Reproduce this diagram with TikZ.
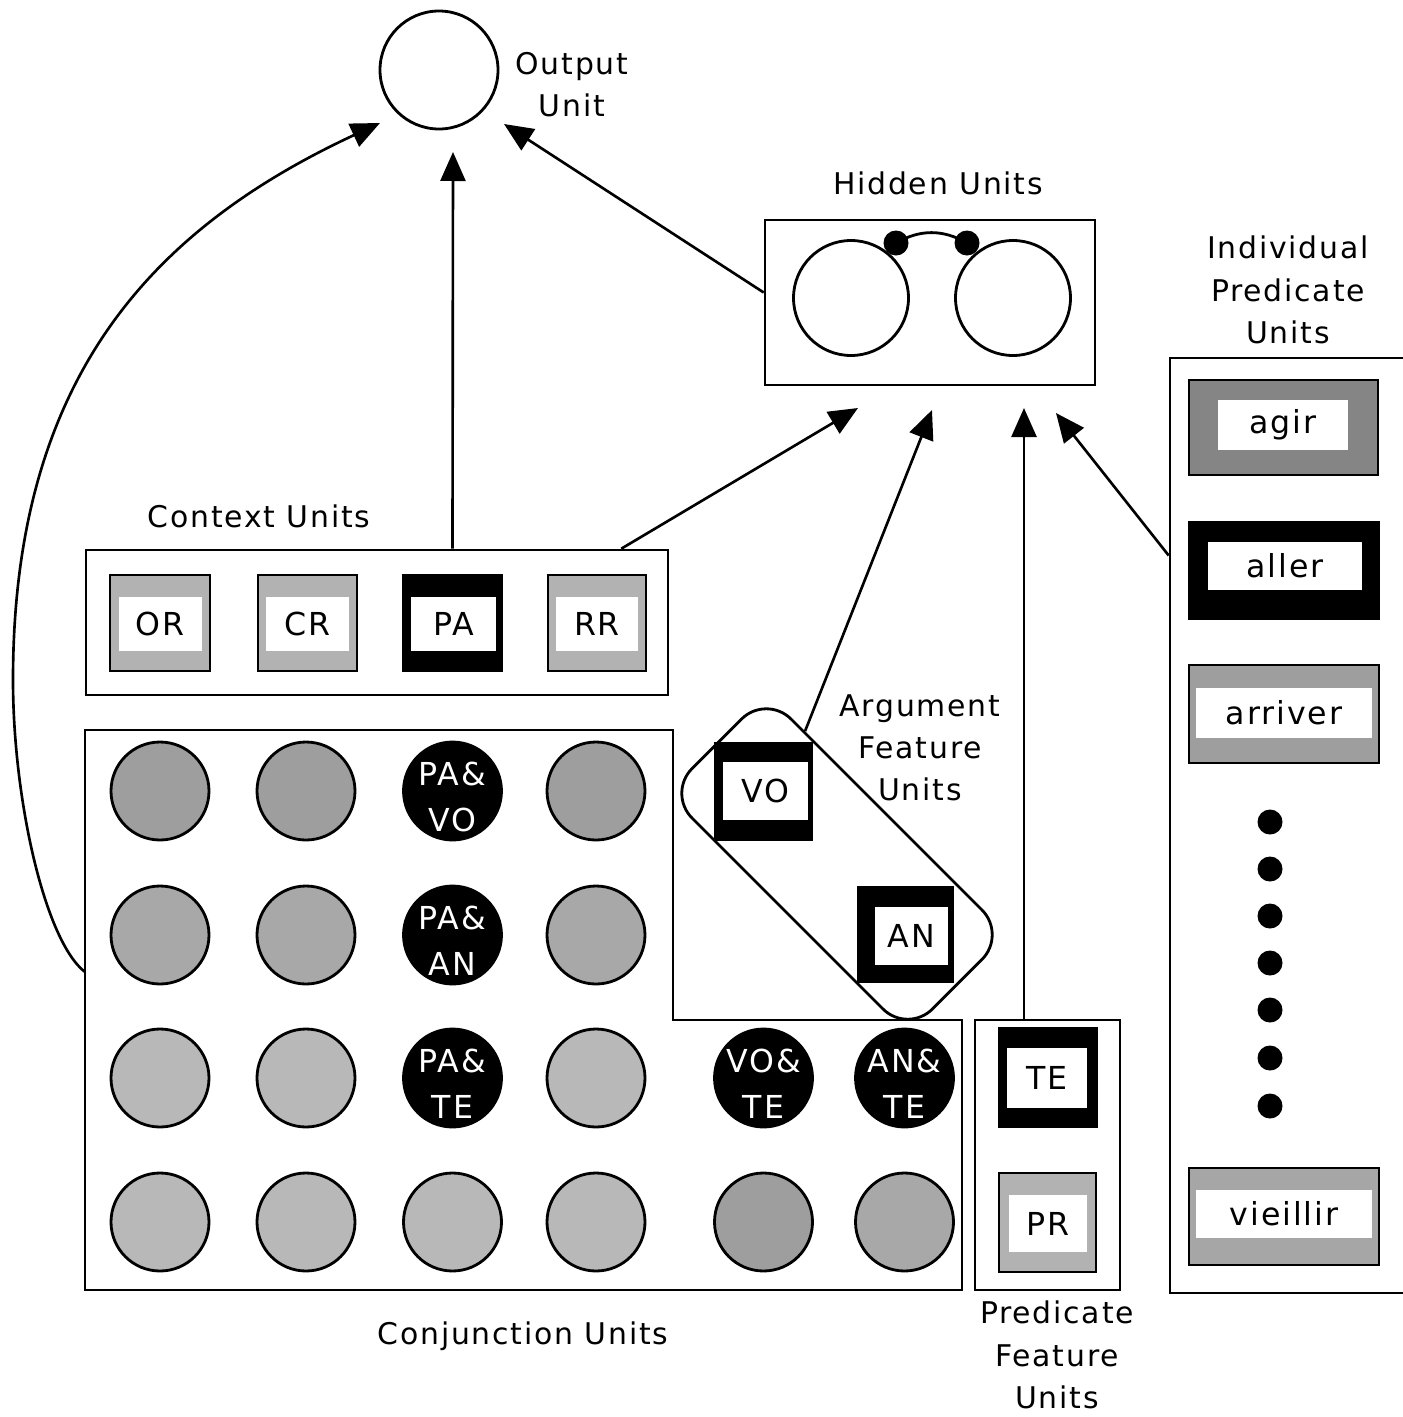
\documentclass[tikz,border=0pt]{standalone}
\usepackage{fontspec}
\setmainfont{DejaVu Sans}[LetterSpace=6]
\usetikzlibrary{arrows.meta,calc}
\newcommand\lblfont{\fontsize{17}{24}\selectfont}
\newcommand\ufont{\fontsize{18}{26}\selectfont}
\colorlet{gctx}{black!30}
\colorlet{gagir}{black!48}
\colorlet{garr}{black!38}
\colorlet{gvie}{black!35}
\colorlet{gpr}{black!30}
\colorlet{gcA}{black!38}
\colorlet{gcB}{black!34}
\colorlet{gcC}{black!28}
\tikzset{
  ln/.style={line width=1.6pt},
  cont/.style={draw, line width=1.5pt, inner sep=0pt},
  ubox/.style={draw, line width=1.5pt, inner sep=0pt},
  uin/.style={fill=white, inner sep=0pt, font=\ufont},
  cu/.style={circle, draw, line width=1.6pt, minimum size=98*0.02cm, inner sep=0pt},
  ctext/.style={text=white, font=\ufont, align=center, inner sep=0pt},
  lbl/.style={font=\lblfont, align=center, inner sep=0pt},
  arr/.style={line width=1.5pt, -{Triangle[length=0.58cm,width=0.5cm]}},
  bdot/.style={circle, fill=black, minimum size=25*0.02cm, inner sep=0pt}
}
\begin{document}
\begin{tikzpicture}[x=0.02cm, y=-0.02cm]
\useasboundingbox (0,0) rectangle (1403,1417);

% ---------- Output unit
\node[circle, draw, ln, minimum size=118*0.02cm, inner sep=0pt] (out) at (439,70) {};
\node[lbl] (outlbl) at (572,85) {Output\\Unit};

% ---------- Hidden units
\node[lbl] (hidlbl) at (938,183) {Hidden Units};
\node[cont, minimum width=330*0.02cm, minimum height=165*0.02cm] (hid) at (930,302.5) {};
\node[circle, draw, ln, minimum size=115*0.02cm, inner sep=0pt] (h1) at (851,298) {};
\node[circle, draw, ln, minimum size=115*0.02cm, inner sep=0pt] (h2) at (1013,298) {};
\node[bdot] (hd1) at (896,243) {};
\node[bdot] (hd2) at (967,243) {};
\draw[ln] (hd1.center) to[bend left=30] (hd2.center);

% ---------- Context units
\node[lbl] (ctxlbl) at (259,516) {Context Units};
\node[cont, minimum width=582*0.02cm, minimum height=145*0.02cm] (ctx) at (377,622.5) {};
\node[ubox, fill=gctx, minimum width=100*0.02cm, minimum height=96*0.02cm] (u-or) at (160,623) {};
\node[uin, minimum width=83*0.02cm, minimum height=54*0.02cm] (u-or-t) at (160,624) {OR};
\node[ubox, fill=gctx, minimum width=99*0.02cm, minimum height=96*0.02cm] (u-cr) at (307.5,623) {};
\node[uin, minimum width=83*0.02cm, minimum height=54*0.02cm] (u-cr-t) at (307.5,624) {CR};
\node[ubox, fill=black, minimum width=99*0.02cm, minimum height=96*0.02cm] (u-pa) at (452.5,623) {};
\node[uin, minimum width=85*0.02cm, minimum height=54*0.02cm] (u-pa-t) at (453.5,624) {PA};
\node[ubox, fill=gctx, minimum width=98*0.02cm, minimum height=96*0.02cm] (u-rr) at (597,623) {};
\node[uin, minimum width=82*0.02cm, minimum height=54*0.02cm] (u-rr-t) at (597,624) {RR};

% ---------- Conjunction units
\draw[line width=1.5pt] (85,730) -- (673,730) -- (673,1020) -- (962,1020) -- (962,1290) -- (85,1290) -- cycle;
\coordinate (conjL) at (85,972);
\node[lbl, anchor=base] (conjlbl) at (523,1344) {Conjunction Units};

\node[cu, fill=gcA] (c11) at (160,791) {};
\node[cu, fill=gcA] (c12) at (306,791) {};
\node[cu, fill=black] (c13) at (452.5,791) {};
\node[cu, fill=gcA] (c14) at (596,791) {};
\node[cu, fill=gcB] (c21) at (160,935) {};
\node[cu, fill=gcB] (c22) at (306,935) {};
\node[cu, fill=black] (c23) at (452.5,935) {};
\node[cu, fill=gcB] (c24) at (596,935) {};
\node[cu, fill=gcC] (c31) at (160,1078) {};
\node[cu, fill=gcC] (c32) at (306,1078) {};
\node[cu, fill=black] (c33) at (452.5,1078) {};
\node[cu, fill=gcC] (c34) at (596,1078) {};
\node[cu, fill=black] (c35) at (763.5,1078) {};
\node[cu, fill=black] (c36) at (904.5,1078) {};
\node[cu, fill=gcC] (c41) at (160,1222) {};
\node[cu, fill=gcC] (c42) at (306,1222) {};
\node[cu, fill=gcC] (c43) at (452.5,1222) {};
\node[cu, fill=gcC] (c44) at (596,1222) {};
\node[cu, fill=gcA] (c45) at (763.5,1222) {};
\node[cu, fill=gcB] (c46) at (904.5,1222) {};
\node[ctext] (c13t) at (452.5,797) {PA\&\\VO};
\node[ctext] (c23t) at (452.5,941) {PA\&\\AN};
\node[ctext] (c33t) at (452.5,1084) {PA\&\\TE};
\node[ctext] (c35t) at (763.5,1084) {VO\&\\TE};
\node[ctext] (c36t) at (904.5,1084) {AN\&\\TE};

% ---------- Argument feature units
\node[draw, ln, rotate=-45, rounded corners=0.7cm, minimum width=340*0.02cm, minimum height=140*0.02cm, inner sep=0pt] (arg) at (837,864) {};
\node[ubox, fill=black, minimum width=97*0.02cm, minimum height=97*0.02cm] (u-vo) at (763.5,791.5) {};
\node[uin, minimum width=85*0.02cm, minimum height=58*0.02cm] (u-vo-t) at (765,791) {VO};
\node[ubox, fill=black, minimum width=95*0.02cm, minimum height=95*0.02cm] (u-an) at (905.5,934.5) {};
\node[uin, minimum width=73*0.02cm, minimum height=58*0.02cm] (u-an-t) at (911.5,936) {AN};
\node[lbl] (arglbl) at (920,748) {Argument\\Feature\\Units};

% ---------- Predicate feature units
\node[cont, minimum width=145*0.02cm, minimum height=270*0.02cm] (pf) at (1047.5,1155) {};
\node[ubox, fill=black, minimum width=98*0.02cm, minimum height=99*0.02cm] (u-te) at (1048,1077.5) {};
\node[uin, minimum width=80*0.02cm, minimum height=60*0.02cm] (u-te-t) at (1047,1078) {TE};
\node[ubox, fill=gpr, minimum width=97*0.02cm, minimum height=99*0.02cm] (u-pr) at (1047.5,1222.5) {};
\node[uin, minimum width=78*0.02cm, minimum height=57*0.02cm] (u-pr-t) at (1048,1223.5) {PR};
\node[lbl] (pflbl) at (1057,1355) {Predicate\\Feature\\Units};

% ---------- Individual predicate units
\node[lbl] (iplbl) at (1288,290) {Individual\\Predicate\\Units};
\node[cont, minimum width=235*0.02cm, minimum height=935*0.02cm] (ip) at (1287.5,825.5) {};
\node[ubox, fill=gagir, minimum width=189*0.02cm, minimum height=95*0.02cm] (u-agir) at (1283.5,427.5) {};
\node[uin, minimum width=130*0.02cm, minimum height=50*0.02cm] (u-agir-t) at (1283,425) {agir};
\node[ubox, fill=black, minimum width=190*0.02cm, minimum height=97*0.02cm] (u-aller) at (1284,570.5) {};
\node[uin, minimum width=154*0.02cm, minimum height=48*0.02cm] (u-aller-t) at (1285,566) {aller};
\node[ubox, fill=garr, minimum width=190*0.02cm, minimum height=98*0.02cm] (u-arriver) at (1284,714) {};
\node[uin, minimum width=176*0.02cm, minimum height=50*0.02cm] (u-arriver-t) at (1284,713) {arriver};
\foreach \i/\yy in {1/822,2/869,3/916,4/963,5/1010,6/1058,7/1106}
  \node[bdot] (ipd\i) at (1270,\yy) {};
\node[ubox, fill=gvie, minimum width=190*0.02cm, minimum height=97*0.02cm] (u-vieillir) at (1284,1216.5) {};
\node[uin, minimum width=176*0.02cm, minimum height=48*0.02cm] (u-vieillir-t) at (1284,1214) {vieillir};

% ---------- arrow tips
\coordinate (tOutL) at (380,123);
\coordinate (tOutB) at (453,152);
\coordinate (tOutR) at (504,124);
\coordinate (tH1) at (858,408);
\coordinate (tH2) at (932,410);
\coordinate (tH3) at (1024,408);
\coordinate (tH4) at (1056,413);
\coordinate (argA) at ($(arg.north west)!0.16!(arg.north east)$);

% ---------- connectors
\draw[arr] (conjL) .. controls (45,941) and (13,800) .. (13,680)
               .. controls (13,380) and (150,230) .. (tOutL);
\draw[arr] (ctx.north -| u-pa) -- (tOutB);
\draw[arr] ($(hid.west)+(0,-10)$) -- (tOutR);
\draw[arr] ($(ctx.north east)+(-48,0)$) -- (tH1);
\draw[arr] (argA) -- (tH2);
\draw[arr] ($(pf.north)+(-23.5,0)$) -- (tH3);
\draw[arr] ($(ip.west)+(0,-270)$) -- (tH4);
\end{tikzpicture}
\end{document}
